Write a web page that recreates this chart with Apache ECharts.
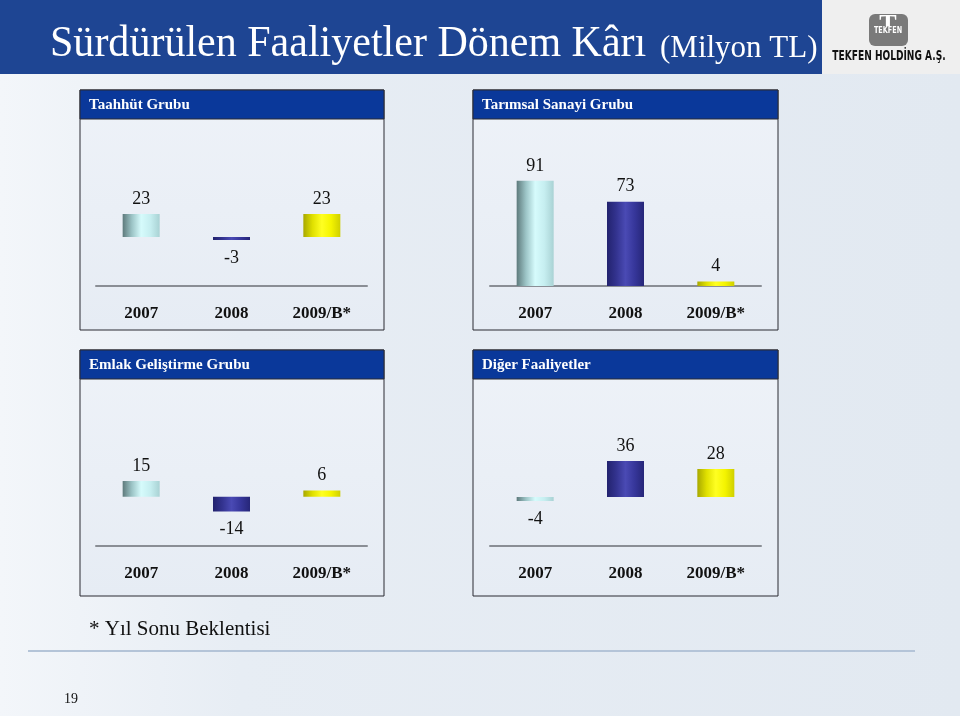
<!DOCTYPE html>
<html>
<head>
<meta charset="utf-8">
<script src="https://cdn.jsdelivr.net/npm/echarts@6/dist/echarts.min.js"></script>
<style>
  html, body { margin: 0; padding: 0; }
  #chart { width: 960px; height: 716px; }
</style>
</head>
<body>
<div id="chart"></div>
<script>
// data (Milyon TL)
const categories = ['2007', '2008', '2009/B*'];
const taahhut = [23, -3, 23];
const tarimsal = [91, 73, 4];
const emlak = [15, -14, 6];
const diger = [-4, 36, 28];
const panelTitles = ['Taahhüt Grubu', 'Tarımsal Sanayi Grubu', 'Emlak Geliştirme Grubu', 'Diğer Faaliyetler'];

const serif = 'Liberation Serif, Times New Roman, serif';
const narrow = 'Liberation Sans Narrow, DejaVu Sans Condensed, Liberation Sans, sans-serif';

function grad (stops) {
  return new echarts.graphic.LinearGradient(0, 0, 1, 0, stops.map((c, i) => ({ offset: i / (stops.length - 1), color: c })));
}
const barColors = [
  grad(['#5e7a7c', '#9cc4c6', '#d6fbfc', '#c6eef0', '#a9d2d4']),
  grad(['#22226e', '#33338f', '#4a4ab4', '#36369a', '#262678']),
  grad(['#a8a800', '#e0e000', '#ffff22', '#f4f400', '#cfcf00'])
];

function makeData (values) {
  return values.map((v, i) => ({
    value: v,
    itemStyle: { color: barColors[i] },
    label: v < 0 ? { position: 'bottom', distance: 9 } : { position: 'top', distance: 6 }
  }));
}

// panel frames
const panels = [
  { x: 80, y: 90, w: 304, h: 240 },
  { x: 473, y: 90, w: 305, h: 240 },
  { x: 80, y: 350, w: 304, h: 246 },
  { x: 473, y: 350, w: 305, h: 246 }
];
const panelGraphics = [];
panels.forEach((p, i) => {
  panelGraphics.push({
    type: 'rect', shape: { x: p.x, y: p.y, width: p.w, height: p.h },
    style: {
      fill: new echarts.graphic.LinearGradient(0, 0, 0, 1, [
        { offset: 0, color: '#eef2f8' }, { offset: 1, color: '#e6ecf4' }
      ]),
      stroke: '#2b2b33', lineWidth: 1
    }, z: 0
  });
  panelGraphics.push({
    type: 'rect', shape: { x: p.x, y: p.y, width: p.w, height: 29 },
    style: { fill: '#0a389a', stroke: '#2b2b33', lineWidth: 1 }, z: 1
  });
  panelGraphics.push({
    type: 'text', x: p.x + 9, y: p.y + 15, z: 2,
    style: { text: panelTitles[i], fill: '#fff', font: 'bold 15px ' + serif, verticalAlign: 'middle' }
  });
});

const grids = [
  { left: 96, top: 130, width: 271, height: 156 },
  { left: 490, top: 130, width: 271, height: 156 },
  { left: 96, top: 390, width: 271, height: 156 },
  { left: 490, top: 390, width: 271, height: 156 }
];
const yRanges = [[-49, 107], [0, 135], [-47, 102], [-49, 107]];
const seriesValues = [taahhut, tarimsal, emlak, diger];

const option = {
  animation: false,
  backgroundColor: new echarts.graphic.LinearGradient(0, 0, 1, 0, [
    { offset: 0, color: '#f3f6fa' }, { offset: 0.25, color: '#e7edf4' }, { offset: 1, color: '#e2e9f1' }
  ]),
  graphic: [
    // title bar
    { type: 'rect', shape: { x: 0, y: 0, width: 822, height: 74 }, style: { fill: '#1e4593' }, z: 0 },
    { type: 'rect', shape: { x: 822, y: 0, width: 138, height: 74 }, style: { fill: '#efefef' }, z: 0 },
    {
      type: 'text', x: 50, y: 44, z: 2, scaleX: 0.955,
      style: { text: 'Sürdürülen Faaliyetler Dönem Kârı', fill: '#fff', font: '44px ' + serif, verticalAlign: 'middle' }
    },
    {
      type: 'text', x: 660, y: 49, z: 2,
      style: { text: '(Milyon TL)', fill: '#fff', font: '31px ' + serif, verticalAlign: 'middle' }
    },
    // logo
    { type: 'rect', shape: { x: 869, y: 14, width: 39, height: 32, r: 6 }, style: { fill: '#7a7a7a' }, z: 2 },
    {
      type: 'text', x: 888, y: 25, z: 3,
      style: { text: 'T', fill: '#fff', font: 'bold 26px ' + serif, align: 'center', verticalAlign: 'middle' }
    },
    { type: 'rect', shape: { x: 871, y: 26, width: 35, height: 9 }, style: { fill: '#7a7a7a' }, z: 3 },
    {
      type: 'text', x: 888, y: 31, z: 4, scaleX: 0.8,
      style: { text: 'TEKFEN', fill: '#fff', font: 'bold 9px ' + narrow, align: 'center', verticalAlign: 'middle' }
    },
    {
      type: 'text', x: 889, y: 56, z: 2, scaleX: 0.72,
      style: { text: 'TEKFEN HOLDİNG A.Ş.', fill: '#111', font: 'bold 14px ' + narrow, align: 'center', verticalAlign: 'middle' }
    },
    ...panelGraphics,
    // footer
    {
      type: 'text', x: 89, y: 629, z: 2,
      style: { text: '* Yıl Sonu Beklentisi', fill: '#111', font: '21px ' + serif, verticalAlign: 'middle' }
    },
    { type: 'line', shape: { x1: 28, y1: 651, x2: 915, y2: 651 }, style: { stroke: '#b4c4d8', lineWidth: 2 }, z: 1 },
    {
      type: 'text', x: 64, y: 699, z: 2,
      style: { text: '19', fill: '#111', font: '14px ' + serif, verticalAlign: 'middle' }
    }
  ],
  grid: grids,
  xAxis: grids.map((g, i) => ({
    type: 'category',
    gridIndex: i,
    data: categories,
    axisLine: { onZero: false, lineStyle: { color: '#8a8e95', width: 2 } },
    axisTick: { show: false },
    axisLabel: { margin: 19, color: '#111', fontFamily: serif, fontWeight: 'bold', fontSize: 17 }
  })),
  yAxis: grids.map((g, i) => ({
    type: 'value',
    gridIndex: i,
    min: yRanges[i][0],
    max: yRanges[i][1],
    show: false,
    splitLine: { show: false }
  })),
  series: seriesValues.map((vals, i) => ({
    type: 'bar',
    xAxisIndex: i,
    yAxisIndex: i,
    barWidth: 37,
    data: makeData(vals),
    label: { show: true, color: '#111', fontFamily: serif, fontSize: 18 }
  }))
};

const chart = echarts.init(document.getElementById('chart'));
chart.setOption(option);
window.addEventListener('resize', () => chart.resize());
</script>
</body>
</html>
